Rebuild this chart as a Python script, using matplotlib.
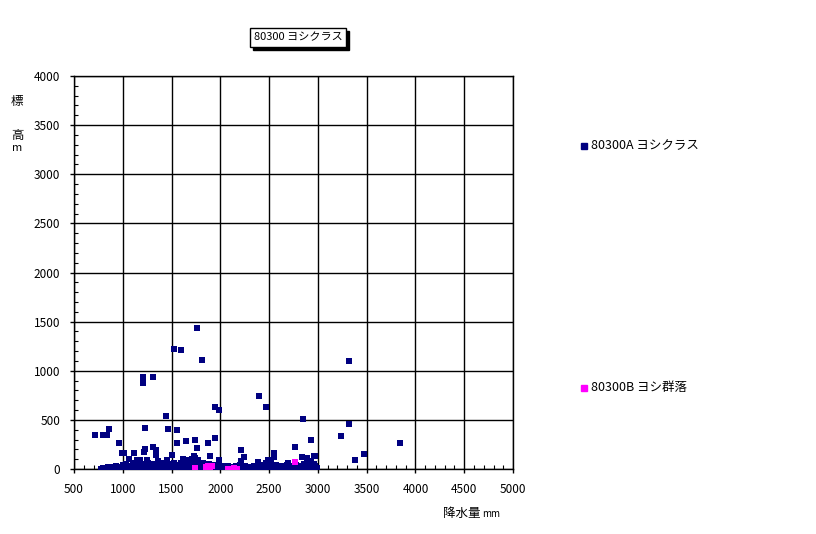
import matplotlib.pyplot as plt
from matplotlib.lines import Line2D
from matplotlib.patches import Rectangle
from matplotlib.ticker import MultipleLocator

plt.rcParams['font.family'] = ['Noto Sans CJK JP', 'DejaVu Sans']

title = '80300 ヨシクラス'
name_a = '80300A ヨシクラス'
name_b = '80300B ヨシ群落'

# 80300A: scattered points above the base
a_x = [720, 795, 835, 855, 965, 997, 1017, 1060, 1117, 1150, 1180, 1211, 1313, 1211,
       1232, 1232, 1221, 1252, 1313, 1344, 1344, 1364, 1445, 1456, 1465, 1507, 1530,
       1555, 1555, 1599, 1619, 1650, 1657, 1711, 1742, 1742, 1725, 1760, 1760, 1775,
       1813, 1874, 1895, 1945, 1946, 1987, 1987, 2207, 2214, 2242, 2385, 2395, 2466,
       2487, 2521, 2548, 2548, 2690, 2765, 2835, 2844, 2890, 2894, 2927, 2929, 2956,
       2966, 2976, 2990, 3232, 3314, 3314, 3385, 3475, 3840]
a_y = [350, 350, 350, 405, 260, 160, 160, 105, 168, 88, 88, 940, 940, 872,
       422, 200, 172, 88, 220, 190, 139, 78, 535, 88, 405, 139, 1217,
       392, 260, 1208, 98, 290, 88, 98, 298, 108, 136, 1432, 210, 95,
       1105, 260, 136, 636, 312, 596, 88, 78, 198, 118, 67, 740, 636,
       88, 88, 166, 118, 61, 220, 118, 504, 108, 67, 78, 300, 130,
       128, 13, 10, 340, 1095, 463, 95, 156, 268]

# 80300A: dense band near zero elevation
base_x = [780, 800, 820, 845, 870, 890, 910, 930, 950, 975, 1000, 1020, 1035, 1050, 1070,
          1085, 1100, 1115, 1130, 1145, 1160, 1175, 1190, 1205, 1220, 1240, 1255, 1270,
          1285, 1300, 1315, 1330, 1345, 1360, 1375, 1390, 1405, 1420, 1435, 1450, 1465,
          1480, 1495, 1510, 1525, 1540, 1555, 1570, 1585, 1600, 1615, 1630, 1645, 1660,
          1675, 1690, 1705, 1720, 1735, 1750, 1765, 1780, 1795, 1810, 1825, 1840, 1855,
          1870, 1885, 1900, 1915, 1930, 1945, 1960, 1975, 1990, 2005, 2020, 2040, 2060,
          2080, 2100, 2120, 2140, 2160, 2180, 2200, 2215, 2230, 2250, 2270, 2290, 2310,
          2330, 2350, 2370, 2390, 2410, 2425, 2440, 2455, 2470, 2485, 2500, 2515, 2530,
          2545, 2560, 2575, 2590, 2605, 2620, 2640, 2660, 2680, 2700, 2720, 2740, 2760,
          2780, 2800, 2820, 2840, 2860, 2880, 2900, 2920, 2940, 2960, 2975]
base_y = [5, 15, 3, 20, 8, 25, 10, 30, 5, 18, 40, 8, 55, 20, 35,
          5, 60, 25, 10, 45, 30, 5, 50, 15, 35, 5, 60, 20,
          40, 8, 55, 25, 10, 45, 30, 5, 60, 15, 40, 25, 5,
          50, 30, 10, 65, 20, 45, 5, 35, 60, 15, 40, 8, 30,
          55, 12, 40, 20, 5, 50, 30, 10, 45, 20, 60, 8, 35,
          15, 50, 5, 30, 45, 12, 25, 5, 40, 15, 30, 5, 20,
          35, 10, 25, 5, 30, 12, 40, 20, 5, 30, 10, 25, 5,
          15, 30, 8, 20, 35, 5, 45, 20, 60, 10, 35, 50, 15,
          30, 5, 40, 20, 10, 30, 5, 25, 40, 10, 30, 5, 20,
          45, 10, 30, 15, 50, 25, 5, 40, 20, 55, 30]

# 80300B
b_x = [1742, 1855, 1870, 1895, 1910, 2075, 2105, 2140, 2170, 2762]
b_y = [6, 25, 35, 20, 28, 5, 5, 8, 5, 67]

navy = '#000080'
magenta = '#ff00ff'
W, H = 816, 534

fig = plt.figure(figsize=(8.16, 5.34), dpi=100)
ax = fig.add_axes([0.0907, 0.1217, 0.538, 0.736])

ax.scatter(a_x + base_x, a_y + base_y, marker='s', s=24, color=navy, linewidths=0, zorder=3)
ax.scatter(b_x, b_y, marker='s', s=24, color=magenta, linewidths=0, zorder=4)

ax.set_xlim(500, 5000)
ax.set_ylim(0, 4000)
ax.xaxis.set_major_locator(MultipleLocator(500))
ax.yaxis.set_major_locator(MultipleLocator(500))
ax.xaxis.set_minor_locator(MultipleLocator(100))
ax.yaxis.set_minor_locator(MultipleLocator(100))
ax.grid(True, which='major', color='black', linewidth=1.0)
ax.set_axisbelow(True)
for s in ax.spines.values():
    s.set_color('black')
    s.set_linewidth(1.0)
ax.tick_params(which='major', direction='out', length=3, width=1, labelsize=8.5, pad=7)
ax.tick_params(which='minor', direction='in', length=3, width=0.8)

# title box with drop shadow
bx0, bx1, by0, by1 = 250, 346, 28, 47
fig.add_artist(Rectangle(((bx0 + 3) / W, 1 - (by1 + 3) / H), (bx1 - bx0) / W, (by1 - by0) / H,
                         transform=fig.transFigure, fc='black', ec='black', lw=1))
fig.add_artist(Rectangle((bx0 / W, 1 - by1 / H), (bx1 - bx0) / W, (by1 - by0) / H,
                         transform=fig.transFigure, fc='white', ec='black', lw=1))
fig.text((bx0 + bx1) / 2 / W, 1 - (by0 + by1) / 2 / H, title, fontsize=8,
         ha='center', va='center')

# y label, stacked characters
fig.text(17 / W, 1 - 101 / H, '標', fontsize=9, ha='center', va='center')
fig.text(17 / W, 1 - 135 / H, '高', fontsize=9, ha='center', va='center')
fig.text(17 / W, 1 - 148 / H, 'm', fontsize=8, ha='center', va='center')

# x label
fig.text(480 / W, 1 - 513 / H, '降水量', fontsize=9, ha='right', va='center')
fig.text(482 / W, 1 - 514 / H, 'mm', fontsize=7, ha='left', va='center')

# legend entries
for ypx, col, name in [(146, navy, name_a), (388, magenta, name_b)]:
    fig.add_artist(Line2D([584 / W], [1 - ypx / H], marker='s', markersize=4.5,
                          color=col, linestyle='none', transform=fig.transFigure))
    fig.text(591 / W, 1 - ypx / H, name, fontsize=9, ha='left', va='center')

fig.savefig('out.png', dpi=100)
